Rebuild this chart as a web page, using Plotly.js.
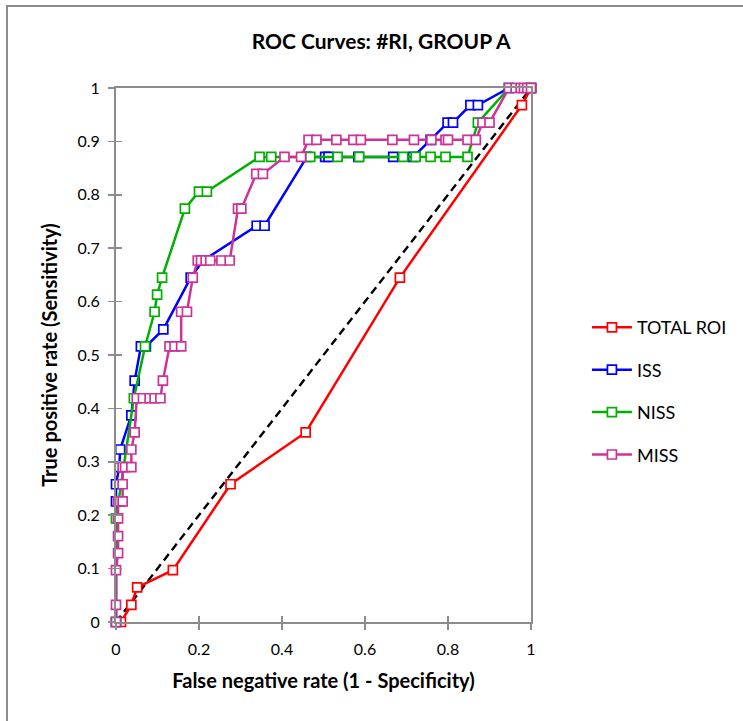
<!DOCTYPE html>
<html>
<head>
<meta charset="utf-8">
<script src="https://cdn.plot.ly/plotly-3.0.1.min.js"></script>
<style>
  html, body { margin: 0; padding: 0; background: #fff; }
  #wrap { position: relative; width: 743px; height: 721px; overflow: hidden; }
  #frame { position: absolute; left: 6px; top: 5px; width: 900px; height: 900px;
           border-left: 2px solid #8c8c8c; border-top: 2px solid #8c8c8c; box-sizing: border-box; }
  #chart { position: absolute; left: 0; top: 0; width: 743px; height: 721px; }
</style>
</head>
<body>
<div id="wrap">
  <div id="frame"></div>
  <div id="chart"></div>
</div>
<script>
// ---- data ----
const seriesNames = ["TOTAL ROI", "ISS", "NISS", "MISS"];

const totalX = [0.012, 0.037, 0.051, 0.137, 0.276, 0.457, 0.684, 0.978, 1];
const totalY = [0, 0.032, 0.065, 0.097, 0.258, 0.355, 0.645, 0.968, 1];

const issX = [0, 0, 0, 0.008, 0.01, 0.037, 0.045, 0.06, 0.072, 0.114, 0.18, 0.21, 0.339, 0.358, 0.46, 0.504, 0.512, 0.584, 0.668, 0.716, 0.758, 0.799, 0.812, 0.854, 0.872, 0.947, 1];
const issY = [0, 0.226, 0.258, 0.290, 0.323, 0.387, 0.452, 0.516, 0.516, 0.548, 0.645, 0.677, 0.742, 0.742, 0.871, 0.871, 0.871, 0.871, 0.871, 0.871, 0.903, 0.935, 0.935, 0.968, 0.968, 1, 1];

const nissX = [0, 0, 0.043, 0.07, 0.093, 0.099, 0.111, 0.166, 0.2, 0.219, 0.346, 0.374, 0.468, 0.534, 0.586, 0.692, 0.722, 0.758, 0.794, 0.847, 0.872, 0.947, 1];
const nissY = [0, 0.194, 0.419, 0.516, 0.581, 0.613, 0.645, 0.774, 0.806, 0.806, 0.871, 0.871, 0.871, 0.871, 0.871, 0.871, 0.871, 0.871, 0.871, 0.871, 0.935, 1, 1];

const missX = [0, 0, 0, 0.005, 0.005, 0.005, 0.005, 0.01, 0.016, 0.016, 0.016, 0.022, 0.037, 0.037, 0.045, 0.05, 0.065, 0.081, 0.093, 0.107, 0.113, 0.129, 0.141, 0.157, 0.157, 0.171, 0.185, 0.197, 0.205, 0.216, 0.227, 0.254, 0.274, 0.294, 0.302, 0.338, 0.354, 0.406, 0.446, 0.464, 0.483, 0.531, 0.572, 0.59, 0.666, 0.718, 0.76, 0.794, 0.8, 0.847, 0.867, 0.883, 0.9, 0.947, 0.963, 0.975, 0.983, 0.991, 1];
const missY = [0, 0.032, 0.097, 0.129, 0.161, 0.194, 0.226, 0.226, 0.226, 0.258, 0.290, 0.290, 0.290, 0.323, 0.355, 0.419, 0.419, 0.419, 0.419, 0.419, 0.452, 0.516, 0.516, 0.516, 0.581, 0.581, 0.645, 0.677, 0.677, 0.677, 0.677, 0.677, 0.677, 0.774, 0.774, 0.839, 0.839, 0.871, 0.871, 0.903, 0.903, 0.903, 0.903, 0.903, 0.903, 0.903, 0.903, 0.903, 0.903, 0.903, 0.903, 0.935, 0.935, 1, 1, 1, 1, 1, 1];

const diagX = [0, 1];
const diagY = [0, 1];

const colors = ["#FF0000", "#0000FF", "#00B000", "#CC3399"];
const FONT = "Lato, 'Open Sans', sans-serif";

function series(name, x, y, color) {
  return {
    type: "scatter", mode: "lines+markers", name: name, x: x, y: y,
    line: { color: color, width: 2.5 },
    marker: { symbol: "square", size: 9, color: "#ffffff", line: { color: color, width: 1.7 } },
    cliponaxis: false, legendgroup: name
  };
}

const data = [
  { type: "scatter", mode: "lines", x: diagX, y: diagY, showlegend: false,
    line: { color: "#000000", width: 2.4, dash: "8px,5px" }, hoverinfo: "skip", cliponaxis: false },
  series(seriesNames[0], totalX, totalY, colors[0]),
  series(seriesNames[1], issX, issY, colors[1]),
  series(seriesNames[2], nissX, nissY, colors[2]),
  series(seriesNames[3], missX, missY, colors[3]),
  { type: "scatter", mode: "markers", x: [0.5], y: [0.5], xaxis: "x2", yaxis: "y2",
    marker: { opacity: 0 }, showlegend: false, hoverinfo: "skip" }
];

const axisCommon = {
  range: [0, 1], showgrid: false, zeroline: false, showline: true, mirror: true,
  linecolor: "#8c8c8c", linewidth: 2, ticks: "outside", ticklen: 6, tickwidth: 1.5,
  tickcolor: "#8c8c8c", tickfont: { family: FONT, size: 16, color: "#000" }, fixedrange: true
};

const layout = {
  width: 743, height: 721,
  paper_bgcolor: "rgba(0,0,0,0)", plot_bgcolor: "rgba(0,0,0,0)",
  margin: { l: 116, r: 211, t: 88, b: 99 },
  font: { family: FONT, color: "#000" },
  title: { text: "ROC Curves: #RI, GROUP A", xref: "container", x: 0.513, xanchor: "center",
           yref: "container", y: 0.942, yanchor: "middle",
           font: { family: FONT, size: 21, weight: "bold", color: "#000" } },
  xaxis: Object.assign({}, axisCommon, {
    tickvals: [0, 0.2, 0.4, 0.6, 0.8, 1], ticktext: ["0", "0.2", "0.4", "0.6", "0.8", "1"],
    ticklabelstandoff: 6,
    title: { text: "False negative rate (1 - Specificity)", standoff: 17,
             font: { family: FONT, size: 20, weight: "bold", color: "#000" } }
  }),
  yaxis: Object.assign({}, axisCommon, {
    tickvals: [0, 0.1, 0.2, 0.3, 0.4, 0.5, 0.6, 0.7, 0.8, 0.9, 1],
    ticktext: ["0", "0.1", "0.2", "0.3", "0.4", "0.5", "0.6", "0.7", "0.8", "0.9", "1"],
    ticklabelstandoff: 5,
    title: { text: "True positive rate (Sensitivity)", standoff: 14,
             font: { family: FONT, size: 20, weight: "bold", color: "#000" } }
  }),
  xaxis2: { overlaying: "x", matches: "x", range: [0, 1], showgrid: false, zeroline: false,
            showline: false, ticks: "inside", ticklen: 6, tickwidth: 1.5, tickcolor: "#8c8c8c",
            tickvals: [0, 0.2, 0.4, 0.6, 0.8, 1], showticklabels: false, side: "bottom", fixedrange: true },
  yaxis2: { overlaying: "y", matches: "y", range: [0, 1], showgrid: false, zeroline: false,
            showline: false, ticks: "inside", ticklen: 6, tickwidth: 1.5, tickcolor: "#8c8c8c",
            tickvals: [0, 0.1, 0.2, 0.3, 0.4, 0.5, 0.6, 0.7, 0.8, 0.9, 1], showticklabels: false,
            side: "left", fixedrange: true },
  legend: { x: 1.132, xanchor: "left", y: 0.586, yanchor: "top",
            font: { family: FONT, size: 18, color: "#000" }, traceorder: "grouped",
            tracegroupgap: 16, bgcolor: "rgba(0,0,0,0)", itemwidth: 40 },
  showlegend: true
};

Plotly.newPlot("chart", data, layout, { displayModeBar: false, staticPlot: true });
</script>
</body>
</html>
